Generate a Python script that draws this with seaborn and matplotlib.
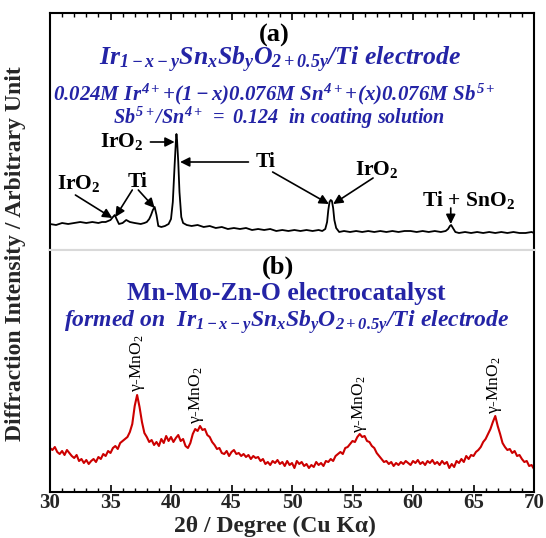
import matplotlib
matplotlib.use("Agg")
import matplotlib.pyplot as plt
from matplotlib.ticker import MultipleLocator
import seaborn as sns

# ── DATA ──────────────────────────────────────────────────────────────────────
# (a) Ir-Sn-Sb-O / Ti electrode pattern
two_theta_a = [30.0, 30.5, 31.0, 31.5, 32.0, 32.5, 33.0, 33.5, 34.0, 34.3, 34.6, 34.8,
               35.0, 35.2, 35.35, 35.5, 35.7, 36.0, 36.3, 36.6, 37.0, 37.5, 37.8, 38.0,
               38.2, 38.35, 38.5, 38.65, 38.8, 38.95, 39.2, 39.5, 39.8, 40.0, 40.15,
               40.3, 40.4, 40.45, 40.5, 40.6, 40.7, 40.85, 41.0, 41.3, 41.7, 42.2, 42.7,
               43.2, 43.7, 44.2, 44.7, 45.2, 45.7, 46.2, 46.7, 47.2, 47.7, 48.2, 48.7,
               49.2, 49.7, 50.2, 50.7, 51.2, 51.7, 52.2, 52.5, 52.75, 52.9, 53.0, 53.1,
               53.2, 53.3, 53.4, 53.5, 53.65, 53.9, 54.3, 54.8, 55.3, 55.8, 56.3, 56.8,
               57.3, 57.8, 58.3, 58.8, 59.3, 59.8, 60.3, 60.8, 61.3, 61.8, 62.3, 62.7,
               62.9, 63.05, 63.15, 63.3, 63.5, 63.8, 64.3, 64.8, 65.3, 65.8, 66.3, 66.8,
               67.3, 67.8, 68.3, 68.8, 69.3, 69.8, 70.0]
intensity_a = [26, 25, 27, 26, 27, 28, 27, 28, 27, 28, 28, 29,
               30, 33, 35, 31, 26, 27, 30, 28, 27, 26, 27, 28,
               31, 35, 40, 43, 35, 24, 23, 24, 26, 31, 48,
               85, 108, 116, 110, 88, 58, 33, 27, 25, 24, 25, 23,
               24, 22, 23, 21, 22, 21, 22, 20, 21, 20, 21, 19,
               20, 19, 20, 19, 20, 19, 20, 19, 21, 28, 40, 48,
               50, 49, 42, 30, 22, 18, 19, 18, 19, 18, 19, 18,
               19, 18, 19, 18, 19, 19, 18, 19, 18, 19, 18, 19,
               21, 24, 25, 22, 18, 17, 18, 17, 18, 17, 18, 17,
               18, 17, 18, 17, 17, 18, 17]

# (b) Mn-Mo-Zn-O electrocatalyst pattern, 0.2 deg step
two_theta_b = [30.0 + 0.2 * i for i in range(201)]
intensity_b = [44, 42, 45, 40, 38, 41, 37, 42, 39, 36,
               34, 37, 31, 33, 29, 32, 28, 31, 33, 30,
               35, 33, 38, 36, 41, 39, 44, 46, 43, 49,
               51, 53, 55, 60, 68, 86, 97, 85, 70, 59,
               55, 50, 52, 47, 50, 46, 53, 49, 56, 51,
               55, 50, 54, 57, 51, 53, 46, 44, 49, 58,
               63, 61, 66, 62, 63, 57, 55, 50, 47, 43,
               44, 39, 38, 41, 36, 40, 42, 38, 39, 36,
               38, 35, 37, 33, 36, 34, 35, 31, 33, 28,
               30, 27, 31, 29, 32, 28, 30, 26, 31, 27,
               29, 24, 31, 28, 30, 26, 28, 24, 27, 25,
               30, 27, 29, 26, 31, 30, 33, 31, 36, 38,
               40, 38, 44, 45, 48, 51, 50, 55, 58, 55,
               56, 51, 50, 46, 44, 39, 36, 33, 30, 31,
               28, 30, 26, 29, 27, 30, 28, 31, 29, 27,
               31, 29, 32, 28, 30, 27, 31, 29, 32, 28,
               30, 27, 31, 28, 30, 24, 28, 25, 31, 29,
               33, 30, 36, 33, 37, 36, 40, 42, 45, 50,
               53, 58, 63, 70, 76, 66, 58, 49, 45, 42,
               43, 39, 41, 36, 37, 33, 30, 31, 26, 27,
               23]

# peak annotations of (a): (label, text x, text y, [(arrow start), (arrow tip)])
peaks_a = [
    ("IrO$_\\mathbf{2}$", 32.4, 67, [((32.1, 55), (35.15, 32))]),
    ("Ti", 37.2, 68, [((36.8, 60), (35.4, 33)), ((37.3, 60), (38.65, 42))]),
    ("IrO$_\\mathbf{2}$", 35.9, 108, [((38.3, 108), (40.3, 108))]),
    ("Ti", 47.8, 88, [((46.4, 88), (40.75, 88)), ((48.4, 78), (53.05, 46))]),
    ("IrO$_\\mathbf{2}$", 57.0, 81, [((56.7, 72), (53.4, 46))]),
    ("Ti + SnO$_\\mathbf{2}$", 64.6, 50, [((63.12, 42), (63.12, 26))]),
]
# gamma-MnO2 peaks of (b): label x, label bottom y
gamma_x = [37.2, 42.1, 55.6, 66.7]
gamma_y = [99, 67, 58, 77]

BLUE = "#2424a6"
RED = "#cc0000"

sns.set_theme(style="white")
plt.rcParams["font.family"] = ["Liberation Serif", "DejaVu Serif"]
plt.rcParams["mathtext.fontset"] = "custom"
plt.rcParams["mathtext.rm"] = "Liberation Serif:italic:bold"
plt.rcParams["mathtext.it"] = "Liberation Serif:italic:bold"
plt.rcParams["mathtext.bf"] = "Liberation Serif:bold"
plt.rcParams["mathtext.sf"] = "Liberation Serif"

fig = plt.figure(figsize=(5.46, 5.38), dpi=100)
ax_a = fig.add_axes([50 / 546, 1 - 250 / 538, 484 / 546, 237 / 538])
ax_b = fig.add_axes([50 / 546, 1 - 492 / 538, 484 / 546, 242 / 538])

sns.lineplot(x=two_theta_a, y=intensity_a, ax=ax_a, color="black", lw=1.3)
sns.lineplot(x=two_theta_b, y=intensity_b, ax=ax_b, color=RED, lw=1.5)

for ax in (ax_a, ax_b):
    ax.set_xlim(30, 70)
    ax.set_yticks([])
    ax.set_xlabel("")
    ax.set_ylabel("")
    ax.xaxis.set_major_locator(MultipleLocator(5))
    ax.xaxis.set_minor_locator(MultipleLocator(1))
    for s in ax.spines.values():
        s.set_color("black")
        s.set_linewidth(1.5)
ax_a.set_ylim(0, 237)
ax_b.set_ylim(0, 242)
ax_a.spines["bottom"].set_color("#d9d9d9")
ax_b.spines["top"].set_color("#d9d9d9")

ax_a.tick_params(axis="x", which="both", direction="in", top=True, bottom=False,
                 labeltop=False, labelbottom=False, color="black")
ax_a.tick_params(axis="x", which="major", length=5, width=1.2)
ax_a.tick_params(axis="x", which="minor", length=3, width=1.0)
ax_b.tick_params(axis="x", which="both", direction="in", top=False, bottom=True,
                 color="black")
ax_b.tick_params(axis="x", which="major", length=5, width=1.2, pad=1, labelsize=15)
ax_b.tick_params(axis="x", which="minor", length=3, width=1.0)
for lbl in ax_b.get_xticklabels():
    lbl.set_fontweight("bold")

# ── panel (a) texts ──
ax_a.text(0.463, 0.905, "(a)", transform=ax_a.transAxes, ha="center", va="center",
          fontsize=19, fontweight="bold", color="black")
ax_a.text(0.475, 0.80, r"$Ir_{1-x-y}Sn_xSb_yO_{2+0.5y}/Ti\ electrode$",
          transform=ax_a.transAxes, ha="center", va="center", fontsize=18.5, color=BLUE)
ax_a.text(0.463, 0.655, r"$0.024M\ Ir^{4+}\!+\!(1-x)0.076M\ Sn^{4+}\!+\!(x)0.076M\ Sb^{5+}$",
          transform=ax_a.transAxes, ha="center", va="center", fontsize=15, color=BLUE)
ax_a.text(0.473, 0.556, r"$Sb^{5+}/Sn^{4+}\ =\ 0.124\ \ in\ coating\ solution$",
          transform=ax_a.transAxes, ha="center", va="center", fontsize=14.5, color=BLUE)

for label, tx, ty, arrows in peaks_a:
    ax_a.text(tx, ty, label, ha="center", va="center", fontsize=15.5,
              fontweight="bold", color="black")
    for start, tip in arrows:
        ax_a.annotate("", xy=tip, xytext=start,
                      arrowprops=dict(arrowstyle="-|>", color="black", lw=1.2,
                                      mutation_scale=14, shrinkA=0, shrinkB=0))

# ── panel (b) texts ──
ax_b.text(0.471, 0.93, "(b)", transform=ax_b.transAxes, ha="center", va="center",
          fontsize=19, fontweight="bold", color="black")
ax_b.text(0.488, 0.822, "Mn-Mo-Zn-O electrocatalyst", transform=ax_b.transAxes,
          ha="center", va="center", fontsize=18.5, fontweight="bold", color=BLUE)
ax_b.text(0.49, 0.70, r"$formed\ on\ \ Ir_{1-x-y}Sn_xSb_yO_{2+0.5y}/Ti\ electrode$",
          transform=ax_b.transAxes, ha="center", va="center", fontsize=17, color=BLUE)
for gx, gy in zip(gamma_x, gamma_y):
    ax_b.text(gx, gy + 1, "γ-MnO$_\\mathsf{2}$", rotation=90, ha="center", va="bottom",
              fontsize=12.5, color="black")

ax_b.set_xlabel("2θ / Degree (Cu Kα)", fontsize=17, fontweight="bold")
ax_b.xaxis.set_label_coords(0.464, -0.097)
fig.text(16 / 546, 1 - 254 / 538, "Diffraction Intensity / Arbitrary Unit", rotation=90,
         ha="center", va="center", fontsize=17, fontweight="bold")

fig.savefig("out.png", dpi=100)
